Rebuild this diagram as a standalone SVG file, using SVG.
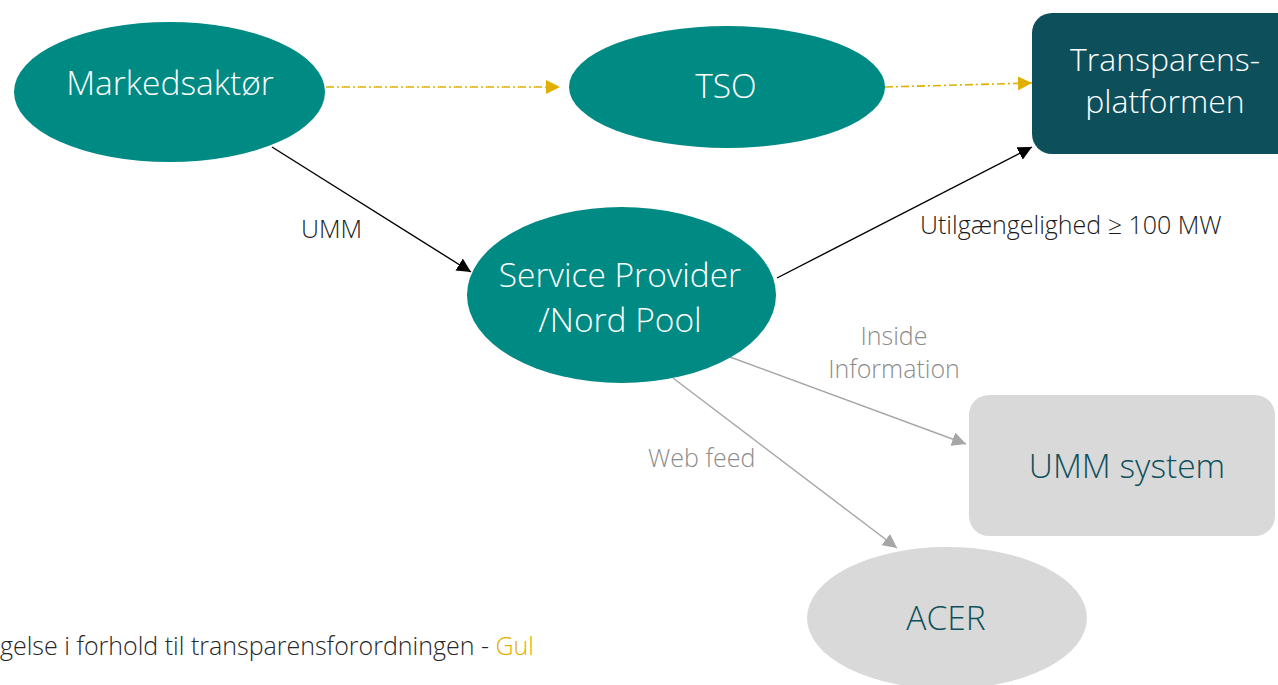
<svg xmlns="http://www.w3.org/2000/svg" width="1278" height="685" viewBox="0 0 1278 685">
<style>
  text { font-family: "Open Sans", "Noto Sans", "Liberation Sans", sans-serif; font-weight: 300; }
  .teal { fill: #008A84; }
  .dark { fill: #0D505C; }
  .grey { fill: #D9D9D9; }
  .ntxt { fill: #FFFFFF; font-size: 33.5px; text-anchor: middle; }
  .gtxt { fill: #0D505C; font-size: 33.5px; text-anchor: middle; }
  .lbl { fill: #1A1A1A; font-size: 25px; }
  .glbl { fill: #8C8C8C; font-size: 25px; }
  .yel { stroke: #E0B000; stroke-width: 1.6; fill: none; stroke-dasharray: 8 3 2 3; }
  .blk { stroke: #000000; stroke-width: 1.4; fill: none; }
  .gry { stroke: #A6A6A6; stroke-width: 1.4; fill: none; }
</style>
<defs>
  <marker id="ay" viewBox="0 0 10 10" refX="10" refY="5" markerWidth="14" markerHeight="14" markerUnits="userSpaceOnUse" orient="auto">
    <path d="M0,0 L10,5 L0,10 Z" fill="#E0B000"/>
  </marker>
  <marker id="ab" viewBox="0 0 10 10" refX="10" refY="5" markerWidth="14" markerHeight="14" markerUnits="userSpaceOnUse" orient="auto">
    <path d="M0,0 L10,5 L0,10 Z" fill="#000000"/>
  </marker>
  <marker id="ag" viewBox="0 0 10 10" refX="10" refY="5" markerWidth="14" markerHeight="14" markerUnits="userSpaceOnUse" orient="auto">
    <path d="M0,0 L10,5 L0,10 Z" fill="#A6A6A6"/>
  </marker>
</defs>
<rect width="1278" height="685" fill="#FFFFFF"/>

<g id="connectors">
  <line class="yel" x1="326" y1="87" x2="560" y2="87" marker-end="url(#ay)"/>
  <line class="yel" x1="885" y1="87" x2="1032" y2="83" marker-end="url(#ay)"/>
  <line class="blk" x1="272" y1="147" x2="471" y2="272" marker-end="url(#ab)"/>
  <line class="blk" x1="777" y1="278" x2="1032" y2="147" marker-end="url(#ab)"/>
  <line class="gry" x1="730" y1="357" x2="966" y2="444" marker-end="url(#ag)"/>
  <line class="gry" x1="673" y1="378" x2="897" y2="548" marker-end="url(#ag)"/>
  <text class="lbl" x="301" y="238">UMM</text>
  <text class="lbl" x="920" y="234">Utilgængelighed ≥ 100 MW</text>
  <text class="glbl" x="894" y="345" text-anchor="middle">Inside</text>
  <text class="glbl" x="894" y="378" text-anchor="middle">Information</text>
  <text class="glbl" x="648" y="467">Web feed</text>
</g>

<g id="markedsaktor">
  <ellipse class="teal" cx="169.5" cy="92" rx="155.5" ry="70"/>
  <text class="ntxt" x="170" y="95">Markedsaktør</text>
</g>
<g id="tso">
  <ellipse class="teal" cx="727" cy="87" rx="158" ry="61"/>
  <text class="ntxt" x="726" y="98">TSO</text>
</g>
<g id="transparensplatformen">
  <rect class="dark" x="1032" y="13" width="266" height="141" rx="20" ry="20"/>
  <text class="ntxt" x="1165" y="71" style="font-size:32px">Transparens-</text>
  <text class="ntxt" x="1165" y="113" style="font-size:32px">platformen</text>
</g>
<g id="serviceprovider">
  <ellipse class="teal" cx="621.5" cy="295" rx="154.5" ry="88"/>
  <text class="ntxt" x="620" y="287">Service Provider</text>
  <text class="ntxt" x="620" y="332">/Nord Pool</text>
</g>
<g id="ummsystem">
  <rect class="grey" x="969" y="395" width="306" height="141" rx="20" ry="20"/>
  <text class="gtxt" x="1127" y="478">UMM system</text>
</g>
<g id="acer">
  <ellipse class="grey" cx="947" cy="618" rx="140" ry="71"/>
  <text class="gtxt" x="946" y="630">ACER</text>
</g>

<text x="0" y="655" font-size="25" fill="#262626">gelse i forhold til transparensforordningen - <tspan fill="#E0B000">Gul</tspan></text>
</svg>
